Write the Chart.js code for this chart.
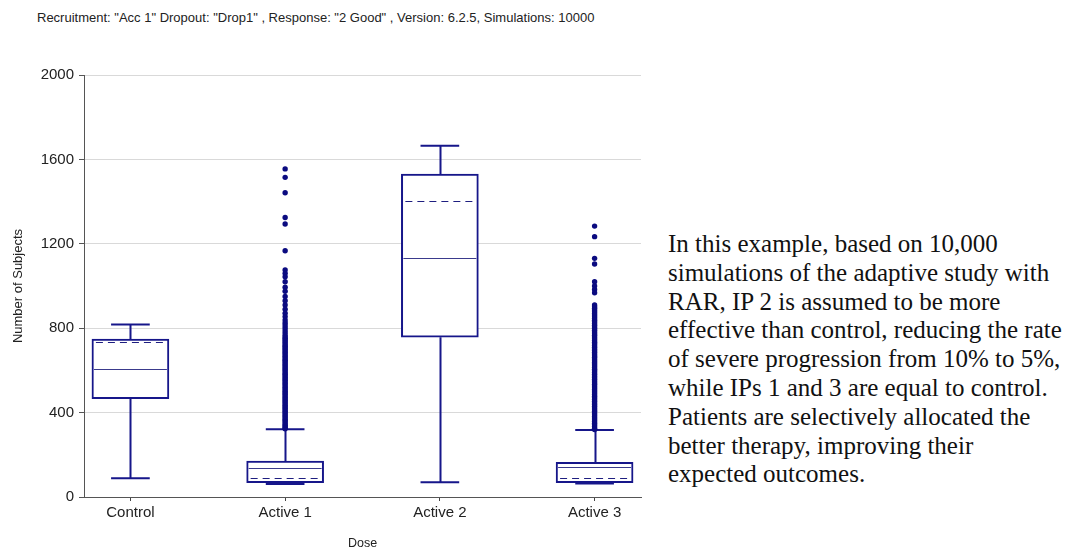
<!DOCTYPE html>
<html>
<head>
<meta charset="utf-8">
<script src="https://cdn.jsdelivr.net/npm/chart.js@4.4.1/dist/chart.umd.min.js"></script>
<style>
  html, body { margin: 0; padding: 0; background: #fff; }
  body { width: 1070px; height: 551px; overflow: hidden; position: relative; font-family: "Liberation Sans", Arial, sans-serif; }
  #wrap { position: absolute; left: 0; top: 0; width: 660px; height: 551px; }
  #title { position: absolute; left: 37px; top: 10px; font-size: 13px; color: #222; white-space: nowrap; }
  #note { position: absolute; left: 668px; top: 230px; font-family: "Liberation Serif", "Times New Roman", serif;
          font-size: 25px; line-height: 28.8px; color: #111; white-space: nowrap; }
</style>
</head>
<body>
<div id="title">Recruitment: "Acc 1" Dropout: "Drop1" , Response: "2 Good" , Version: 6.2.5, Simulations: 10000</div>
<div id="wrap"><canvas id="chart"></canvas></div>
<div id="note">In this example, based on 10,000<br>simulations of the adaptive study with<br>RAR, IP 2 is assumed to be more<br>effective than control, reducing the rate<br>of severe progression from 10% to 5%,<br>while IPs 1 and 3 are equal to control.<br>Patients are selectively allocated the<br>better therapy, improving their<br>expected outcomes.</div>

<script>
// Arm names along the dose axis
const categories = ['Control', 'Active 1', 'Active 2', 'Active 3'];

// Box-plot summaries per arm (number of subjects)
const whiskerLow  = [89, 62, 70, 64];
const q1          = [466, 68, 757, 68];
const median      = [605, 139, 1133, 141];
const mean        = [736, 89, 1401, 89];
const q3          = [749, 170, 1531, 164];
const whiskerHigh = [818, 321, 1665, 318];

// Outlying simulations above the upper whisker
const outliersActive1 = [
  1555, 1515, 1442, 1325, 1294, 1167, 1076, 1060, 1044, 1020, 994, 975, 950, 930, 910,
  890, 871, 855, 839, 826, 815, 803, 792, 780, 768, 760, 752, 745, 737, 730, 722, 715,
  707, 700, 692, 685, 678, 670, 663, 655, 648, 641, 633, 626, 619, 611, 604, 597, 589,
  582, 575, 567, 560, 553, 545, 538, 531, 523, 516, 509, 501, 494, 487, 479, 472, 465,
  457, 450, 443, 435, 428, 421, 413, 406, 399, 391, 384, 377, 369, 362, 355, 347, 340,
  333, 327, 323
];
const outliersActive3 = [
  1284, 1234, 1131, 1104, 1020, 1000, 984, 968, 910, 902, 894, 886, 878, 870, 862, 854,
  846, 838, 830, 822, 814, 806, 798, 790, 782, 774, 766, 758, 750, 742, 734, 726, 718,
  710, 702, 694, 686, 678, 670, 662, 654, 646, 638, 630, 622, 614, 606, 598, 590, 582,
  574, 566, 558, 550, 542, 534, 526, 518, 510, 502, 494, 486, 478, 470, 462, 454, 446,
  438, 430, 422, 414, 406, 398, 390, 382, 374, 366, 358, 350, 342, 334, 326, 320
];

// Y-axis tick values
const yTicks = [0, 400, 800, 1200, 1600, 2000];

const NAVY = '#16168a';
const DOT = '#0b0b80';
const CAP = 0.125;

const outlierPoints = [];
outliersActive1.forEach(v => outlierPoints.push({ x: 1, y: v }));
outliersActive3.forEach(v => outlierPoints.push({ x: 3, y: v }));

// Whiskers under the boxes, median and mean lines on top of them
const boxLines = {
  id: 'boxLines',
  beforeDatasetsDraw(chart) {
    const { ctx, scales: { x, y } } = chart;
    ctx.save();
    ctx.strokeStyle = NAVY;
    ctx.lineWidth = 2;
    categories.forEach((c, i) => {
      const cx = Math.round(x.getPixelForValue(i)) + 0.5;
      const l = x.getPixelForValue(i - CAP);
      const r = x.getPixelForValue(i + CAP);
      const yHi = y.getPixelForValue(whiskerHigh[i]);
      const yLo = y.getPixelForValue(whiskerLow[i]);
      ctx.beginPath();
      ctx.moveTo(cx, y.getPixelForValue(q3[i])); ctx.lineTo(cx, yHi);
      ctx.moveTo(l, yHi); ctx.lineTo(r, yHi);
      ctx.moveTo(cx, y.getPixelForValue(q1[i])); ctx.lineTo(cx, yLo);
      ctx.moveTo(l, yLo); ctx.lineTo(r, yLo);
      ctx.stroke();
    });
    ctx.restore();
  },
  afterDatasetDraw(chart, args) {
    if (args.index !== 0) return;
    const { ctx, scales: { y } } = chart;
    const bars = chart.getDatasetMeta(0).data;
    ctx.save();
    bars.forEach((bar, i) => {
      const left = bar.x - bar.width / 2 + 2;
      const right = bar.x + bar.width / 2 - 2;
      const ym = Math.round(y.getPixelForValue(median[i])) + 0.5;
      ctx.strokeStyle = '#3a3a8c';
      ctx.lineWidth = 1.2;
      ctx.setLineDash([]);
      ctx.beginPath(); ctx.moveTo(left, ym); ctx.lineTo(right, ym); ctx.stroke();
      const ya = Math.round(y.getPixelForValue(mean[i])) + 0.5;
      ctx.strokeStyle = '#1e1e80';
      ctx.lineWidth = 1.2;
      ctx.setLineDash([7, 5]);
      ctx.beginPath(); ctx.moveTo(left + 2, ya); ctx.lineTo(right, ya); ctx.stroke();
    });
    ctx.restore();
  }
};

new Chart(document.getElementById('chart'), {
  type: 'bar',
  data: {
    datasets: [
      {
        type: 'bar',
        data: categories.map((c, i) => ({ x: i, y: [q1[i], q3[i]] })),
        backgroundColor: '#ffffff',
        borderColor: NAVY,
        borderWidth: 2,
        borderSkipped: false,
        barThickness: 77
      },
      {
        type: 'scatter',
        data: outlierPoints,
        backgroundColor: DOT,
        borderColor: DOT,
        borderWidth: 0,
        pointRadius: 2.7
      }
    ]
  },
  options: {
    responsive: true,
    maintainAspectRatio: false,
    animation: false,
    events: [],
    layout: { padding: { left: 11, top: 75, right: 19, bottom: 0 } },
    plugins: { legend: { display: false }, tooltip: { enabled: false }, title: { display: false } },
    scales: {
      x: {
        type: 'linear',
        min: -0.3,
        max: 3.3,
        offset: false,
        afterBuildTicks: scale => { scale.ticks = categories.map((c, i) => ({ value: i })); },
        afterFit: scale => { scale.height = 54; },
        ticks: {
          autoSkip: false,
          maxRotation: 0,
          padding: 3,
          color: '#222',
          font: { family: 'Liberation Sans', size: 15 },
          callback: v => categories[v] !== undefined ? categories[v] : ''
        },
        grid: { offset: false, drawOnChartArea: false, tickLength: 4, tickColor: '#444', tickWidth: 1 },
        border: { color: '#555', width: 1 },
        title: {
          display: true,
          text: 'Dose',
          color: '#222',
          padding: { top: 0, bottom: 0 },
          font: { family: 'Liberation Sans', size: 12.5 }
        }
      },
      y: {
        min: 0,
        max: 2000,
        afterBuildTicks: scale => { scale.ticks = yTicks.map(v => ({ value: v })); },
        afterFit: scale => { scale.width = 73; },
        ticks: {
          padding: 5,
          color: '#222',
          font: { family: 'Liberation Sans', size: 15 },
          callback: v => String(v)
        },
        grid: { color: '#d9d9d9', tickColor: '#555', tickLength: 5, lineWidth: 1 },
        border: { color: '#555', width: 1 },
        title: {
          display: true,
          text: 'Number of Subjects',
          color: '#222',
          padding: { top: 0, bottom: 0 },
          font: { family: 'Liberation Sans', size: 13 }
        }
      }
    }
  },
  plugins: [boxLines]
});
</script>
</body>
</html>
